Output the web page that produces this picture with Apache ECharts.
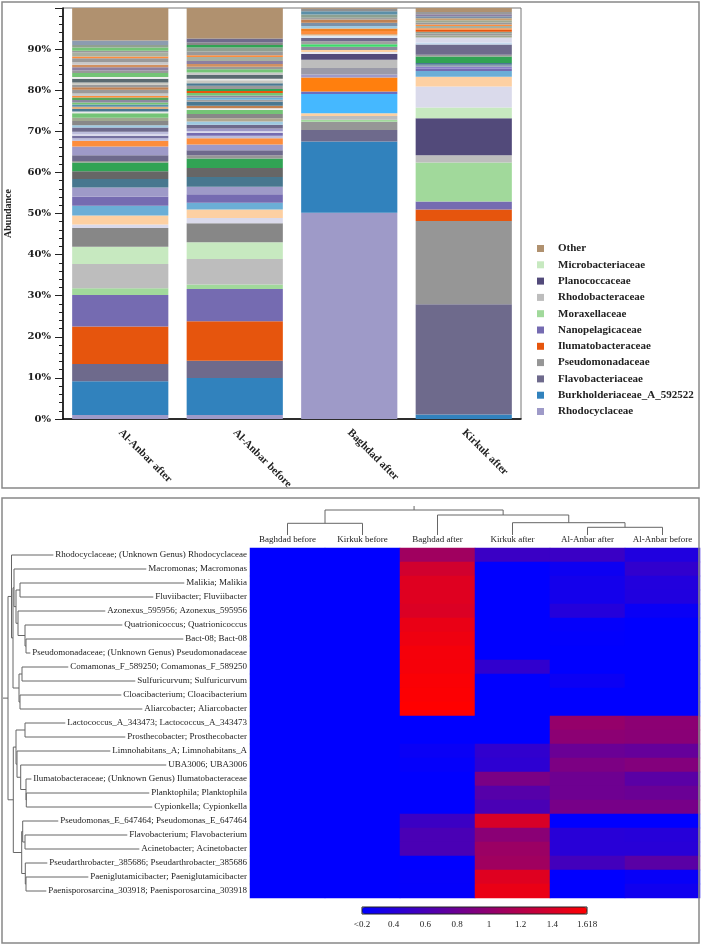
<!DOCTYPE html>
<html>
<head>
<meta charset="utf-8">
<script src="https://cdn.jsdelivr.net/npm/echarts@6/dist/echarts.min.js"></script>
<style>
  html, body { margin: 0; padding: 0; background: #fff; }
  #main { width: 702px; height: 946px; }
</style>
</head>
<body>
<div id="main"></div>
<script>
// ---------------- stacked bar chart (relative abundance, %) ----------------
const barSamples = ['Al-Anbar after', 'Al-Anbar before', 'Baghdad after', 'Kirkuk after'];

// legend families, bottom -> top of the stack
const famNames = ['Rhodocyclaceae', 'Burkholderiaceae_A_592522', 'Flavobacteriaceae', 'Pseudomonadaceae',
  'Ilumatobacteraceae', 'Nanopelagicaceae', 'Moraxellaceae', 'Rhodobacteraceae', 'Planococcaceae', 'Microbacteriaceae'];
const famValues = [
  [1.0, 1.0, 50.2, 0],
  [8.2, 9.0, 17.3, 1.1],
  [4.2, 4.2, 2.8, 26.8],
  [0, 0, 2.0, 20.3],
  [9.1, 9.6, 0, 2.8],
  [7.7, 7.8, 0, 1.9],
  [1.6, 1.1, 0.5, 9.5],
  [5.9, 6.2, 0.9, 1.8],
  [0, 0, 0, 9.0],
  [4.2, 4.1, 0, 2.6]
];
const otherValues = [7.9, 7.4, 0.3, 1.0];

// the many small unnamed families between Microbacteriaceae and Other, per sample
const restAnbarAfter = [4.6, 0.8, 2.2, 2.4, 2.2, 2.2, 2.1, 1.9, 2.1, 0.4, 1.4, 2.1, 1.4,
  0.6, 0.6, 0.4, 0.6, 1.0, 0.6, 1.0, 0.8, 1.1, 0.4, 0.6, 0.6, 0.5, 0.5, 0.6, 0.6, 0.4, 0.6, 0.9, 0.6,
  0.6, 0.6, 0.9, 0.4, 1.0, 0.6, 0.8, 0.6, 0.6, 1.0, 0.4, 1.0, 0.4, 0.8, 0.6, 1.1];
const restAnbarBefore = [4.6, 1.3, 2.1, 1.6, 2.1, 1.8, 2.4, 2.2, 2.3, 0.8, 1.2, 1.4, 1.5,
  0.6, 0.7, 0.4, 0.7, 0.9, 0.8, 0.8, 1.0, 1.0, 0.4, 0.6, 1.0, 0.5, 0.5, 0.5, 0.6, 0.5, 0.5, 0.8, 0.6,
  0.7, 0.4, 0.9, 0.6, 0.8, 0.6, 0.7, 0.7, 1.0, 0.4, 0.9, 1.0, 0.6, 0.6, 1.0];
const restBaghdadAfter = [0.7, 4.7, 0.6, 3.4, 0.7, 1.6, 2.0, 1.4, 0.5, 0.5, 0.8, 0.6, 0.7, 0.8, 0.6,
  0.4, 0.7, 0.6, 0.6, 0.8, 0.8, 0.4, 0.8, 0.8, 0.6];
const restKirkukAfter = [5.1, 2.4, 1.4, 0.5, 0.5, 0.5, 0.4, 1.6, 0.4, 2.5, 0.5, 1.2, 0.5, 0.5, 0.4,
  0.5, 0.4, 0.5, 0.4, 0.5, 0.5, 0.5, 0.5, 0.5, 0.5];

// colours (styles kept apart from the values)
const famColors = ['#9e9ac8', '#3182bd', '#6e6a8c', '#969696', '#e6550d', '#756bb1', '#a1d99b', '#bdbdbd', '#524a7a', '#c7e9c0'];
const otherColor = '#b0916f';
const midColors = ['#878787', '#dadaeb', '#fdd0a2', '#6baed6', '#756bb1', '#9e9ac8', '#47778f', '#666666', '#31a354', '#969696', '#6e6a8c', '#9e9ac8', '#fd8d3c'];
const restAnbarAfterColors = midColors.concat(['#bcbddc', '#7570a0', '#dadaeb', '#bcbddc', '#6e6a8c', '#9ecae1', '#888888', '#a0a890', '#74c476', '#e8e8e8',
  '#4a7891', '#e0b080', '#5b8fa8', '#74c476', '#8c88a0', '#5aa55a', '#fd8d3c', '#c8c8c8', '#999999', '#c08050', '#9a9a9a', '#c8c8c0',
  '#5a6a70', '#f0f0f0', '#74c476', '#999999', '#8c7fa0', '#d09060', '#c8c8c8', '#999999', '#fd8d3c', '#a8b0a0', '#999999', '#74c476',
  '#90a090', '#8c9cb0']);
const restAnbarBeforeColors = midColors.concat(['#bcbddc', '#756bb1', '#dadaeb', '#9e9ac8', '#6e6a8c', '#9ecae1', '#b0a890', '#888888', '#74c476', '#f0f0f0',
  '#c08050', '#4a7891', '#a0a0a0', '#6baed6', '#8c88a0', '#74c476', '#e6550d', '#31a354', '#999999', '#4a7891', '#c8c8c0', '#e8e8e8',
  '#5a6a70', '#c8c8c8', '#74c476', '#999999', '#d09060', '#8c7fa0', '#a8b0a0', '#fd8d3c', '#999999', '#90a090', '#31a354', '#888888',
  '#6e6a8c']);
const restBaghdadAfterColors = ['#fdd0a2', '#45b8ff', '#6a6ec0', '#ff7f0e', '#9e9ac8', '#9a9aa8', '#bdbdbd', '#524a7a', '#e8e8f0', '#fdd0a2',
  '#8c8c9c', '#3ddc6a', '#a0a0a0', '#6e6a8c', '#dde8f5', '#e0b080', '#fd8d3c', '#f08020', '#9ecae1', '#7a90a8', '#c08050', '#a0a0a0',
  '#8ca090', '#5b8fa8', '#909090'];
const restKirkukAfterColors = ['#dadaeb', '#fdd0a2', '#6baed6', '#756bb1', '#8a7fc8', '#8c9cb0', '#4a7891', '#31a354', '#999999', '#6e6a8c',
  '#c6dbef', '#dadaeb', '#a0a890', '#999999', '#90a090', '#e6550d', '#fd8d3c', '#a8b0a0', '#fd8d3c', '#999999', '#a0a890', '#c8a070',
  '#7a90a8', '#8c7fa0', '#999999'];

// ---------------- heatmap ----------------
const heatCols = ['Baghdad before', 'Kirkuk before', 'Baghdad after', 'Kirkuk after', 'Al-Anbar after', 'Al-Anbar before'];
const heatRows = [
  'Rhodocyclaceae; (Unknown Genus) Rhodocyclaceae', 'Macromonas; Macromonas', 'Malikia; Malikia', 'Fluviibacter; Fluviibacter',
  'Azonexus_595956; Azonexus_595956', 'Quatrionicoccus; Quatrionicoccus', 'Bact-08; Bact-08',
  'Pseudomonadaceae; (Unknown Genus) Pseudomonadaceae', 'Comamonas_F_589250; Comamonas_F_589250', 'Sulfuricurvum; Sulfuricurvum',
  'Cloacibacterium; Cloacibacterium', 'Aliarcobacter; Aliarcobacter', 'Lactococcus_A_343473; Lactococcus_A_343473',
  'Prosthecobacter; Prosthecobacter', 'Limnohabitans_A; Limnohabitans_A', 'UBA3006; UBA3006',
  'Ilumatobacteraceae; (Unknown Genus) Ilumatobacteraceae', 'Planktophila; Planktophila', 'Cypionkella; Cypionkella',
  'Pseudomonas_E_647464; Pseudomonas_E_647464', 'Flavobacterium; Flavobacterium', 'Acinetobacter; Acinetobacter',
  'Pseudarthrobacter_385686; Pseudarthrobacter_385686', 'Paeniglutamicibacter; Paeniglutamicibacter',
  'Paenisporosarcina_303918; Paenisporosarcina_303918'
];
const heatValues = [
  [0.2, 0.2, 1.09, 0.52, 0.52, 0.38],
  [0.2, 0.2, 1.36, 0.2, 0.27, 0.47],
  [0.2, 0.2, 1.44, 0.2, 0.31, 0.39],
  [0.2, 0.2, 1.44, 0.2, 0.31, 0.38],
  [0.2, 0.2, 1.42, 0.2, 0.40, 0.25],
  [0.2, 0.2, 1.50, 0.2, 0.22, 0.2],
  [0.2, 0.2, 1.53, 0.2, 0.21, 0.2],
  [0.2, 0.2, 1.56, 0.2, 0.2, 0.2],
  [0.2, 0.2, 1.57, 0.47, 0.2, 0.2],
  [0.2, 0.2, 1.59, 0.2, 0.26, 0.2],
  [0.2, 0.2, 1.60, 0.2, 0.2, 0.2],
  [0.2, 0.2, 1.618, 0.2, 0.2, 0.2],
  [0.2, 0.2, 0.2, 0.2, 1.03, 0.98],
  [0.2, 0.2, 0.2, 0.2, 0.98, 0.96],
  [0.2, 0.2, 0.25, 0.47, 0.79, 0.76],
  [0.2, 0.2, 0.22, 0.45, 0.89, 0.93],
  [0.2, 0.2, 0.2, 0.88, 0.81, 0.70],
  [0.2, 0.2, 0.2, 0.68, 0.81, 0.79],
  [0.2, 0.2, 0.2, 0.61, 0.86, 0.86],
  [0.2, 0.2, 0.53, 1.40, 0.2, 0.2],
  [0.2, 0.2, 0.61, 0.97, 0.42, 0.41],
  [0.2, 0.2, 0.61, 1.06, 0.42, 0.42],
  [0.2, 0.2, 0.2, 1.09, 0.57, 0.70],
  [0.2, 0.2, 0.23, 1.44, 0.2, 0.24],
  [0.2, 0.2, 0.22, 1.50, 0.2, 0.29]
];
const scaleTicks = [0.2, 0.4, 0.6, 0.8, 1, 1.2, 1.4, 1.618];

// dendrograms: [childA, childB, height]; leaves are 0..n-1, merges get ids n, n+1, ...
const rowLinks = [
  [2, 3, 227], [6, 7, 221], [5, 26, 222], [4, 27, 229], [25, 28, 231], [1, 29, 233],
  [8, 9, 225], [10, 11, 227], [31, 32, 228], [30, 33, 234], [0, 34, 235.5],
  [12, 13, 222], [17, 18, 220.7], [16, 37, 221], [15, 38, 226.3], [14, 39, 230], [36, 40, 231],
  [20, 21, 222], [19, 42, 224.3], [23, 24, 221], [22, 44, 221.7], [43, 45, 225.3], [41, 46, 233.7],
  [35, 47, 239]
];
const rowRootTop = 244;
const colLinks = [[4, 5, 7.7], [3, 6, 12.3], [0, 1, 11.7], [2, 7, 20], [8, 9, 25]];
const colRootTop = 29;

// ---------------- build ----------------
const serif = "'Liberation Serif', 'Times New Roman', serif";
const chart = echarts.init(document.getElementById('main'));

const series = [];
famNames.forEach((name, i) => {
  series.push({
    name, type: 'bar', stack: 'abund', barWidth: '84%', xAxisIndex: 0, yAxisIndex: 0,
    itemStyle: { color: famColors[i] }, data: famValues[i], silent: true
  });
});
const restVals = [restAnbarAfter, restAnbarBefore, restBaghdadAfter, restKirkukAfter];
const restCols = [restAnbarAfterColors, restAnbarBeforeColors, restBaghdadAfterColors, restKirkukAfterColors];
const maxRest = Math.max(...restVals.map(r => r.length));
for (let k = 0; k < maxRest; k++) {
  series.push({
    name: 'rest' + k, type: 'bar', stack: 'abund', barWidth: '84%', xAxisIndex: 0, yAxisIndex: 0, silent: true,
    data: restVals.map((r, i) => k < r.length ? { value: r[k], itemStyle: { color: restCols[i][k] } } : 0)
  });
}
series.push({
  name: 'Other', type: 'bar', stack: 'abund', barWidth: '84%', xAxisIndex: 0, yAxisIndex: 0,
  itemStyle: { color: otherColor }, data: otherValues, silent: true
});

// heatmap
const heatData = [];
heatValues.forEach((row, r) => row.forEach((v, c) => heatData.push([c, r, v])));
const heatIndex = series.length;
series.push({
  type: 'heatmap', xAxisIndex: 1, yAxisIndex: 1, data: heatData, silent: true,
  emphasis: { disabled: true }
});

// dendrogram segments built from the link tables
function dendro(leafPos, links) {
  const pos = leafPos.slice();
  const hgt = leafPos.map(() => 0);
  const segs = [];
  links.forEach(([a, b, h]) => {
    segs.push([[pos[a], hgt[a]], [pos[a], h], [pos[b], h], [pos[b], hgt[b]]]);
    pos.push((pos[a] + pos[b]) / 2);
    hgt.push(h);
  });
  return { segs, rootPos: pos[pos.length - 1], rootH: hgt[hgt.length - 1] };
}
const rowD = dendro(heatRows.map((_, i) => i), rowLinks);
const rowSegs = rowD.segs.map(s => ({ coords: s.map(p => [p[1], p[0]]) }));
rowSegs.push({ coords: [[rowD.rootH, rowD.rootPos], [rowRootTop, rowD.rootPos]] });
series.push({
  type: 'lines', coordinateSystem: 'cartesian2d', xAxisIndex: 2, yAxisIndex: 2, polyline: true, silent: true,
  lineStyle: { color: '#666', width: 1, opacity: 1 }, data: rowSegs, z: 1
});
const colD = dendro(heatCols.map((_, i) => i), colLinks);
const colSegs = colD.segs.map(s => ({ coords: s }));
colSegs.push({ coords: [[colD.rootPos, colD.rootH], [colD.rootPos, colRootTop]] });
series.push({
  type: 'lines', coordinateSystem: 'cartesian2d', xAxisIndex: 3, yAxisIndex: 3, polyline: true, silent: true,
  lineStyle: { color: '#666', width: 1, opacity: 1 }, data: colSegs, z: 1
});

const legendNames = ['Other'].concat(famNames.slice().reverse());

chart.setOption({
  animation: false,
  textStyle: { fontFamily: serif },
  grid: [
    { left: 63, top: 8, width: 458, height: 411, show: true, borderColor: '#777', borderWidth: 1, outerBoundsMode: 'none' },
    { left: 250, top: 548, width: 450, height: 350, outerBoundsMode: 'none' },
    { left: 3, top: 548, width: 244, height: 350, outerBoundsMode: 'none' },
    { left: 250, top: 506, width: 450, height: 29, outerBoundsMode: 'none' },
    { left: 362, top: 907, width: 225, height: 7, outerBoundsMode: 'none' }
  ],
  legend: {
    data: legendNames, orient: 'vertical', left: 537, top: 242, padding: 0,
    icon: 'rect', itemWidth: 7, itemHeight: 7, itemGap: 3.3,
    textStyle: { fontFamily: serif, fontWeight: 'bold', fontSize: 11, color: '#222', lineHeight: 13, padding: [0, 0, 0, 9] }
  },
  xAxis: [
    {
      type: 'category', gridIndex: 0, data: barSamples,
      axisLine: { lineStyle: { color: '#000', width: 1.5 } }, axisTick: { show: false },
      axisLabel: { rotate: -45, interval: 0, margin: 12, fontFamily: serif, fontWeight: 'bold', fontSize: 11, color: '#222' }
    },
    {
      type: 'category', gridIndex: 1, data: heatCols, position: 'top',
      axisLine: { show: false }, axisTick: { show: false }, splitLine: { show: false },
      axisLabel: { margin: 4, fontFamily: serif, fontSize: 9, color: '#222', interval: 0 }
    },
    { type: 'value', gridIndex: 2, min: 0, max: 244, inverse: true, show: false },
    { type: 'value', gridIndex: 3, min: -0.5, max: 5.5, show: false },
    {
      type: 'value', gridIndex: 4, min: 0.2, max: 1.618,
      axisLine: { show: false }, axisTick: { show: false }, splitLine: { show: false },
      axisLabel: {
        customValues: scaleTicks, margin: 6, fontFamily: serif, fontSize: 9, color: '#222',
        formatter: v => (v === 0.2 ? '<0.2' : String(v))
      }
    }
  ],
  yAxis: [
    {
      type: 'value', gridIndex: 0, min: 0, max: 100, interval: 10,
      name: 'Abundance', nameLocation: 'middle', nameGap: 50,
      nameTextStyle: { fontFamily: serif, fontWeight: 'bold', fontSize: 10, color: '#222' },
      axisLine: { show: true, lineStyle: { color: '#000', width: 1.5 } },
      axisTick: { show: true, length: 8, lineStyle: { color: '#222' } },
      minorTick: { show: true, splitNumber: 5, length: 4, lineStyle: { color: '#222' } },
      splitLine: { show: false },
      axisLabel: {
        margin: 12, fontFamily: "'DejaVu Serif', serif", fontWeight: 'bold', fontSize: 10, color: '#222',
        formatter: v => (v === 100 ? '' : v + '%')
      }
    },
    {
      type: 'category', gridIndex: 1, data: heatRows, inverse: true, z: 5,
      axisLine: { show: false }, axisTick: { show: false }, splitLine: { show: false },
      axisLabel: {
        interval: 0, margin: 3, fontFamily: serif, fontSize: 9, color: '#222',
        backgroundColor: '#fff', padding: [0, 0, 0, 2]
      }
    },
    { type: 'value', gridIndex: 2, min: -0.5, max: 24.5, inverse: true, show: false },
    { type: 'value', gridIndex: 3, min: 0, max: 29, show: false },
    { type: 'value', gridIndex: 4, min: 0, max: 1, show: false }
  ],
  visualMap: {
    type: 'continuous', seriesIndex: heatIndex, min: 0.2, max: 1.618,
    orient: 'horizontal', left: 362, top: 907, itemWidth: 7, itemHeight: 225, padding: 0,
    calculable: false, hoverLink: false, text: ['', ''],
    inRange: { color: ['#0000ff', '#ff0000'] }
  },
  graphic: [
    { type: 'rect', silent: true, z: 100, shape: { x: 2, y: 2, width: 697, height: 486 }, style: { fill: 'none', stroke: '#888', lineWidth: 1.5 } },
    { type: 'rect', silent: true, z: 100, shape: { x: 2, y: 498, width: 697, height: 445 }, style: { fill: 'none', stroke: '#888', lineWidth: 1.5 } },
    { type: 'rect', silent: true, z: 100, shape: { x: 362, y: 907, width: 225, height: 7 }, style: { fill: 'none', stroke: '#222', lineWidth: 1 } }
  ],
  series
});
</script>
</body>
</html>
